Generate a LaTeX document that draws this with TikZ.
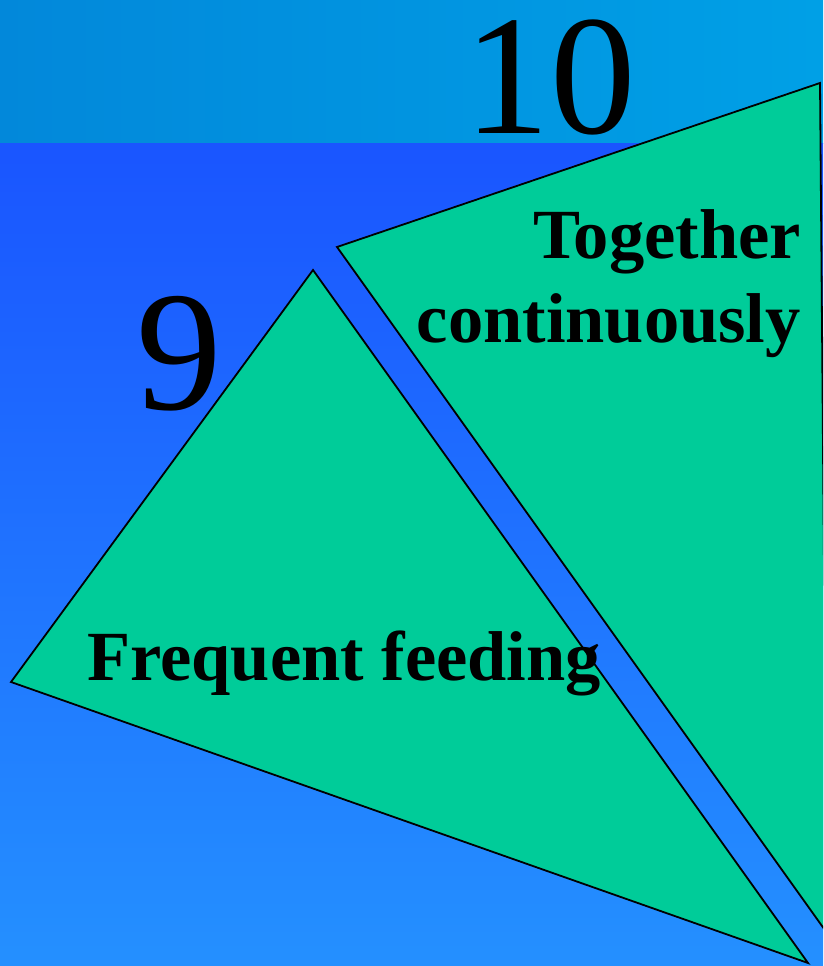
\documentclass[tikz,border=0pt]{standalone}
\usepackage{fontspec}
\setmainfont{Liberation Serif}
\usetikzlibrary{positioning}

\definecolor{bandleft}{HTML}{0288DA}
\definecolor{bandright}{HTML}{00A0E6}
\definecolor{bgtop}{HTML}{1A55FF}
\definecolor{bgmid}{HTML}{29A3FF}
\definecolor{bgbot}{HTML}{2490FF}
\definecolor{panelgreen}{HTML}{00CC99}

\begin{document}
\begin{tikzpicture}[
  x=1pt,y=-1pt,
  num/.style={inner sep=0pt,font=\fontsize{171}{171}\selectfont},
  lbl/.style={inner sep=0pt,font=\fontsize{70.5}{84}\selectfont\bfseries},
  panel/.style={fill=panelgreen,draw=black,line width=1.8pt}]
  \useasboundingbox(0,0) rectangle (823,966);
  \clip(0,0) rectangle (823,966);
  % background
  \shade[left color=bandleft,right color=bandright](0,0) rectangle (823,143);
  \shade[top color=bgtop,middle color=bgmid,bottom color=bgbot](0,143) rectangle (823,966);
  % corners of the two panels
  \coordinate(N9) at(313,270);
  \coordinate(W9) at(11,682);
  \coordinate(S9) at(808,963);
  \coordinate(W10) at(337,247);
  \coordinate(N10) at(820,83);
  \coordinate(S10) at(827,933);
  \draw[panel](N9)--(W9)--(S9)--cycle;
  \draw[panel](W10)--(N10)--(S10)--cycle;
  % numbers and labels
  \node[num,anchor=base](ten) at(550,133){10};
  \node[num,anchor=base](nine) at(179,409){9};
  \node[lbl,anchor=base east](together) at(801,258){Together};
  \node[lbl,anchor=base east](cont) at(801,342){continuously};
  \node[lbl,anchor=base west](feed) at(87,680){Frequent feeding};
\end{tikzpicture}
\end{document}
